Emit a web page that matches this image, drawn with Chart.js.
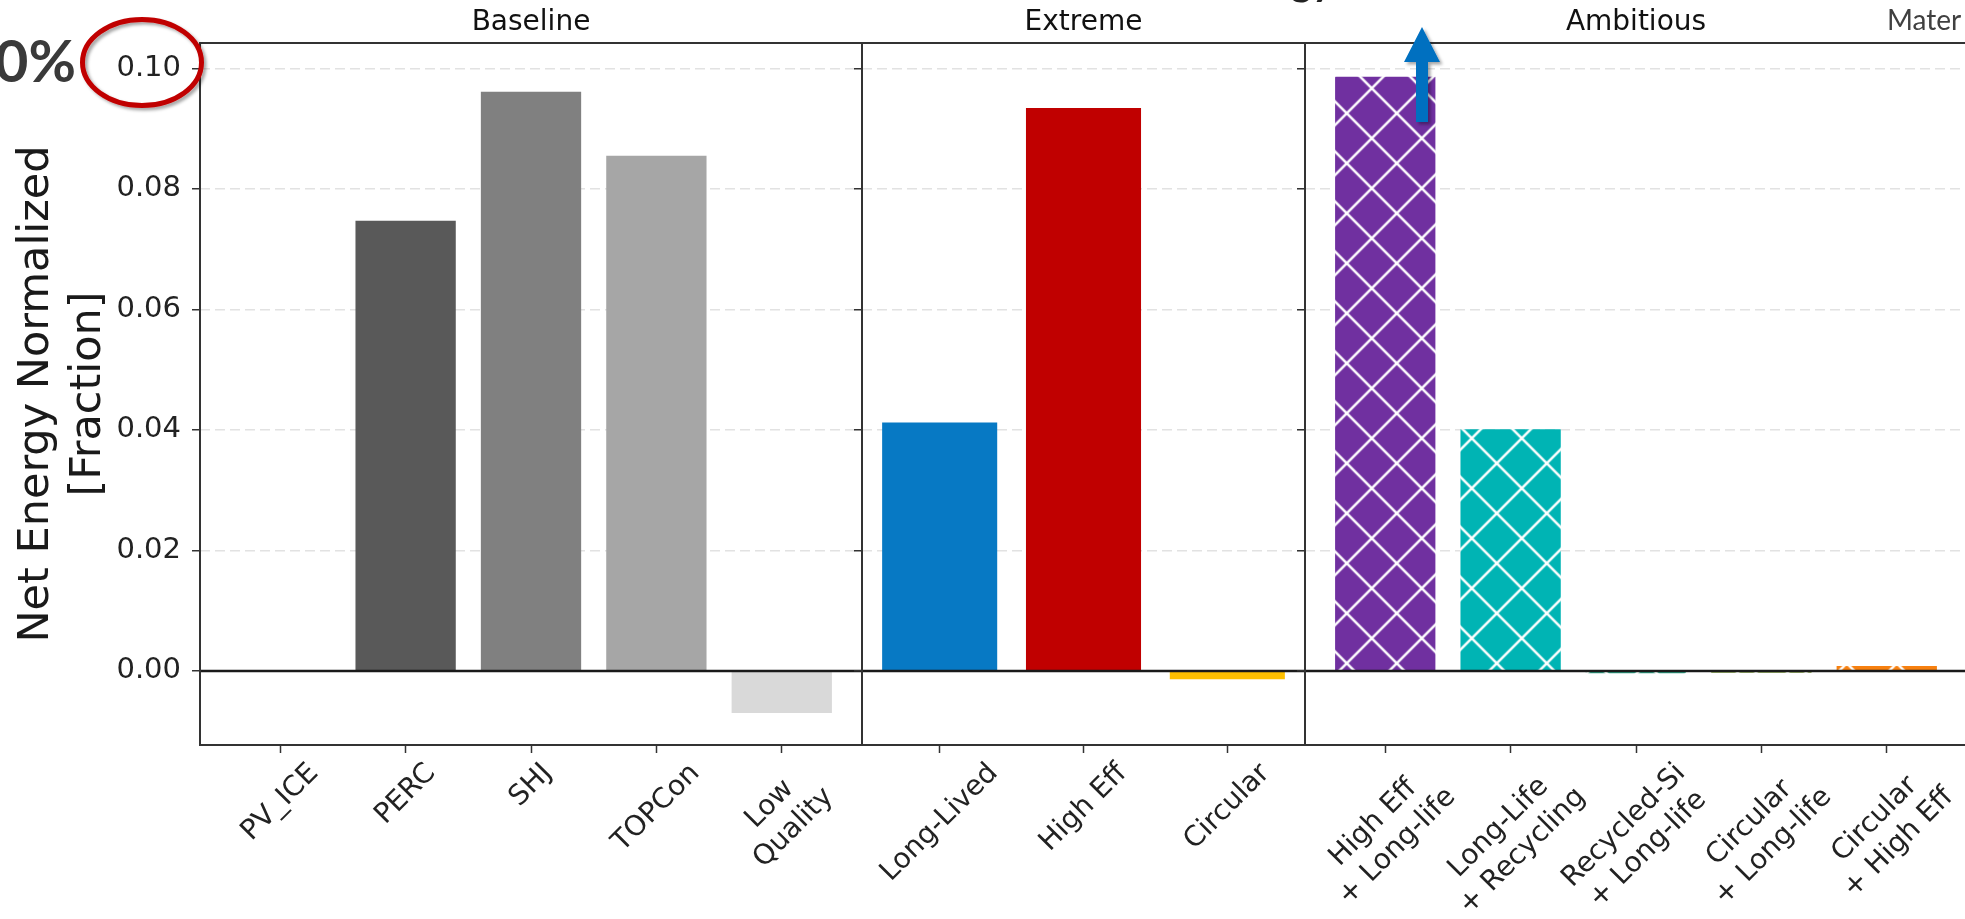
<!DOCTYPE html>
<html>
<head>
<meta charset="utf-8">
<script src="https://cdn.jsdelivr.net/npm/chart.js@4.4.1/dist/chart.umd.min.js"></script>
<style>
  body { margin: 0; background: #fff; }
  #wrap { position: relative; width: 1965px; height: 919px; overflow: hidden; background: #fff; }
  #wrap canvas { position: absolute; top: 0; }
  #notes { position: absolute; left: 0; top: 0; pointer-events: none; overflow: visible; }
</style>
</head>
<body>
<div id="wrap">
  <canvas id="baseline" width="880" height="919" style="left:0px"></canvas>
  <canvas id="extreme" width="481" height="919" style="left:842px"></canvas>
  <canvas id="ambitious" width="700" height="919" style="left:1285px"></canvas>
  <svg id="notes" width="1965" height="919">
    <defs>
      <filter id="sh" x="-30%" y="-30%" width="160%" height="160%">
        <feDropShadow dx="2.5" dy="2.5" stdDeviation="1.8" flood-color="#000" flood-opacity="0.35"/>
      </filter>
    </defs>
    <text x="1333" y="-5" text-anchor="end" font-family="Lato" font-weight="700" font-size="40" fill="#222">Net Energy</text>
    <text x="76" y="82" text-anchor="end" font-family="Lato" font-weight="700" font-size="58" fill="#3a3a3a">0%</text>
    <ellipse cx="142" cy="62.5" rx="59.5" ry="43" fill="none" stroke="#c00000" stroke-width="5" filter="url(#sh)"/>
    <path d="M1416 122 L1416 62 L1404 62 L1422 27 L1440 62 L1428 62 L1428 122 Z" fill="#0070c0" filter="url(#sh)"/>
    <text x="1887" y="30" font-family="Lato" font-size="28" fill="#404040">Mater</text>
  </svg>
</div>
<script>
// values
var baselineCats = ['PV_ICE', 'PERC', 'SHJ', 'TOPCon', 'Low\nQuality'];
var baselineVals = [0, 0.0747, 0.0961, 0.0855, -0.0070];
var baselineColors = ['#595959', '#595959', '#808080', '#a6a6a6', '#d9d9d9'];

var extremeCats = ['Long-Lived', 'High Eff', 'Circular'];
var extremeVals = [0.0412, 0.0934, -0.0014];
var extremeColors = ['#0779c4', '#c00000', '#ffc000'];

var ambitiousCats = ['High Eff\n+ Long-life', 'Long-Life\n+ Recycling', 'Recycled-Si\n+ Long-life', 'Circular\n+ Long-life', 'Circular\n+ High Eff'];
var ambitiousVals = [0.0986, 0.0401, -0.0004, -0.0003, 0.0008];
var ambitiousColors = ['#7030a0', '#00b4b4', '#2a9d80', '#7a9a3a', '#f7800f'];

var yTicks = [0, 0.02, 0.04, 0.06, 0.08, 0.10];
var yMin = -0.0123, yMax = 0.1042;

Chart.defaults.font.family = 'DejaVu Sans';
Chart.defaults.color = '#222';

// white 'x' hatch like matplotlib
function hatch(color, dx, dy) {
  var c = document.createElement('canvas');
  c.width = 50; c.height = 50;
  var g = c.getContext('2d');
  g.fillStyle = color;
  g.fillRect(0, 0, 50, 50);
  g.strokeStyle = '#fff';
  g.lineWidth = 2.5;
  g.beginPath();
  g.moveTo(-5, -5); g.lineTo(55, 55);
  g.moveTo(55, -5); g.lineTo(-5, 55);
  g.stroke();
  var p = g.createPattern(c, 'repeat');
  p.setTransform(new DOMMatrix([1, 0, 0, 1, dx, dy]));
  return p;
}

var panelPlugin = {
  id: 'panel',
  afterDatasetsDraw: function(chart, args, opts) {
    var ctx = chart.ctx, a = chart.chartArea, xs = chart.scales.x, ys = chart.scales.y;
    ctx.save();
    // zero line
    var y0 = ys.getPixelForValue(0);
    ctx.strokeStyle = '#1a1a1a';
    ctx.lineWidth = 2.5;
    ctx.beginPath();
    ctx.moveTo(a.left, y0);
    ctx.lineTo(a.right, y0);
    ctx.stroke();
    // frame
    ctx.strokeStyle = '#333';
    ctx.lineWidth = 2;
    ctx.strokeRect(a.left, a.top, a.right - a.left, a.bottom - a.top);
    // panel title
    ctx.fillStyle = '#111';
    ctx.font = '28px "DejaVu Sans"';
    ctx.textAlign = 'center';
    ctx.textBaseline = 'alphabetic';
    ctx.fillText(opts.title, (a.left + a.right) / 2, a.top - 13);
    // rotated category labels, centred on the tick like matplotlib
    var lh = 28 * 1.2;
    ctx.fillStyle = '#222';
    ctx.textBaseline = 'middle';
    opts.labels.forEach(function(lab, i) {
      var lines = lab.split('\n');
      var w = Math.max.apply(null, lines.map(function(l) { return ctx.measureText(l).width; }));
      var h = lines.length * lh;
      var box = (w + h) * Math.SQRT1_2;
      var cx = xs.getPixelForValue(i);
      var cy = a.bottom + 12 + box / 2;
      ctx.save();
      ctx.translate(cx, cy);
      ctx.rotate(-Math.PI / 4);
      lines.forEach(function(l, j) {
        ctx.fillText(l, 0, (j - (lines.length - 1) / 2) * lh);
      });
      ctx.restore();
    });
    ctx.restore();
  }
};

function makePanel(id, title, cats, vals, colors, first) {
  var n = cats.length;
  var pad = 0.4 + 0.05 * (n - 0.2);
  var yTitle = first
    ? { display: true, text: ['Net Energy Normalized', '[Fraction]'], font: { size: 43, lineHeight: 1.2 }, color: '#1a1a1a', padding: { top: 11, bottom: 0 } }
    : { display: false };
  return new Chart(document.getElementById(id), {
    type: 'bar',
    data: {
      datasets: [{
        data: cats.map(function(c, i) { return { x: i, y: vals[i] }; }),
        backgroundColor: colors,
        borderWidth: 0,
        categoryPercentage: 1,
        barPercentage: 0.8
      }]
    },
    options: {
      responsive: false,
      animation: false,
      events: [],
      layout: { padding: { top: 43, right: 18, bottom: 0, left: 0 } },
      plugins: {
        legend: { display: false },
        tooltip: { enabled: false },
        panel: { title: title, labels: cats }
      },
      scales: {
        x: {
          type: 'linear',
          offset: false,
          min: -pad,
          max: n - 1 + pad,
          afterBuildTicks: function(s) { s.ticks = cats.map(function(c, i) { return { value: i }; }); },
          afterFit: function(s) { s.height = 174; },
          ticks: { display: false },
          border: { display: false },
          grid: { offset: false, drawOnChartArea: false, drawTicks: true, tickLength: 8, tickColor: '#333', tickWidth: 1.5 }
        },
        y: {
          min: yMin,
          max: yMax,
          afterBuildTicks: function(s) { s.ticks = yTicks.map(function(v) { return { value: v }; }); },
          afterFit: function(s) { s.width = first ? 200 : 20; },
          ticks: {
            display: first,
            padding: 11,
            font: { size: 29 },
            color: '#222',
            callback: function(v) { return v.toFixed(2); }
          },
          title: yTitle,
          border: { display: false, dash: [10, 5] },
          grid: { color: '#e2e2e2', lineWidth: 1.5, drawTicks: true, tickLength: 8, tickColor: '#333', tickWidth: 1.5 }
        }
      }
    },
    plugins: [panelPlugin]
  });
}

// hatch lattice lined up with the picture (canvas left at 1285)
var ambitiousFill = ambitiousColors.map(function(c) { return hatch(c, 11.7, 13.3); });

makePanel('baseline', 'Baseline', baselineCats, baselineVals, baselineColors, true);
makePanel('extreme', 'Extreme', extremeCats, extremeVals, extremeColors, false);
makePanel('ambitious', 'Ambitious', ambitiousCats, ambitiousVals, ambitiousFill, false);
</script>
</body>
</html>
